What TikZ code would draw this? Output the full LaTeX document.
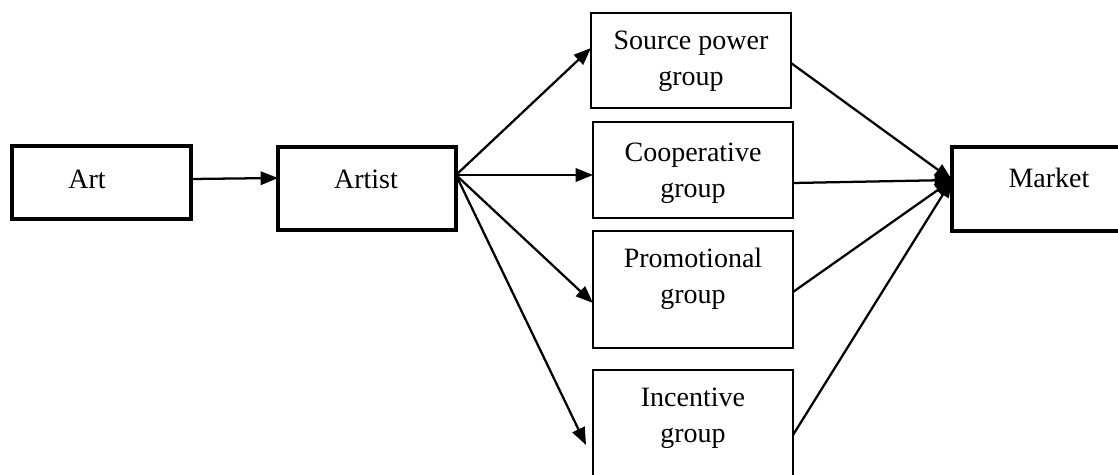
\documentclass[tikz,border=0pt]{standalone}
\usepackage{fontspec}
\setmainfont{Liberation Serif}
\usetikzlibrary{arrows.meta,calc}
\begin{document}
\begin{tikzpicture}[x=0.75pt,y=-0.75pt,
  thickbox/.style={draw,line width=2.4pt,inner sep=0pt,outer sep=0pt},
  thinbox/.style={draw,line width=1.4pt,inner sep=0pt,outer sep=0pt},
  lbl/.style={align=center,inner sep=0pt,font=\fontsize{21}{27}\selectfont},
  arr/.style={line width=1.7pt,-{Triangle[length=13pt,width=10pt]}}]
\useasboundingbox (0,0) rectangle (1118,475);
% boxes
\node[thickbox,minimum width=179*0.75pt,minimum height=73*0.75pt] (art) at (101.5,182.5) {};
\node[thickbox,minimum width=178*0.75pt,minimum height=83*0.75pt] (artist) at (367,188.5) {};
\node[thinbox,minimum width=200*0.75pt,minimum height=95*0.75pt] (src) at (691,60.5) {};
\node[thinbox,minimum width=200*0.75pt,minimum height=96*0.75pt] (coop) at (693,170) {};
\node[thinbox,minimum width=200*0.75pt,minimum height=117*0.75pt] (promo) at (693,289.5) {};
\node[thinbox,minimum width=200*0.75pt,minimum height=112*0.75pt] (inc) at (693,426) {};
\node[thickbox,minimum width=173*0.75pt,minimum height=84*0.75pt] (mkt) at (1038.5,189) {};
% labels
\node[lbl] (artT) at (87,179) {Art};
\node[lbl] (artistT) at (366,179) {Artist};
\node[lbl] (srcT) at (691,61) {Source power\\group};
\node[lbl] (coopT) at (693,173) {Cooperative\\group};
\node[lbl] (promoT) at (693,279) {Promotional\\group};
\node[lbl] (incT) at (693,418) {Incentive\\group};
\node[lbl] (mktT) at (1049,178) {Market};
% connection points
\coordinate (artout) at ($(art.east)+(0,-3.5)$);
\coordinate (artistin) at ($(artist.west)+(0,-10.5)$);
\coordinate (aout) at ($(artist.east)+(0,-13.5)$);
\coordinate (srcin) at ($(src.west)+(0,-12.5)$);
\coordinate (coopin) at ($(coop.west)+(0,5)$);
\coordinate (promoin) at ($(promo.west)+(0,13.5)$);
\coordinate (incin) at ($(inc.west)+(-7,19)$);
\coordinate (srcout) at ($(src.east)+(0,2.5)$);
\coordinate (coopout) at ($(coop.east)+(0,13)$);
\coordinate (promoout) at ($(promo.east)+(0,2.5)$);
\coordinate (incout) at ($(inc.east)+(0,9)$);
\coordinate (mkin) at ($(mkt.west)+(0,-9)$);
% arrows
\draw[arr] (artout) -- (artistin);
\draw[arr] (aout) -- (srcin);
\draw[arr] (aout) -- (coopin);
\draw[arr] (aout) -- (promoin);
\draw[arr] (aout) -- (incin);
\draw[arr] (srcout) -- (mkin);
\draw[arr] (coopout) -- (mkin);
\draw[arr] (promoout) -- (mkin);
\draw[arr] (incout) -- (mkin);
\end{tikzpicture}
\end{document}
